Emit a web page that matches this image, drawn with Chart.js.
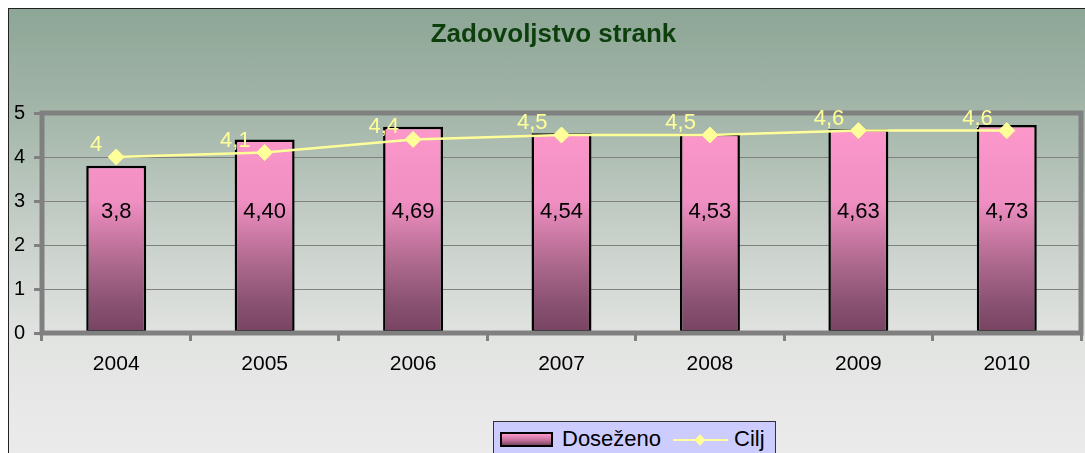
<!DOCTYPE html>
<html lang="sl">
<head>
    <meta charset="UTF-8">
    <title>Zadovoljstvo strank</title>
    <script src="https://cdn.jsdelivr.net/npm/chart.js"></script>
    <style>
        html, body {
            margin: 0;
            padding: 0;
            width: 1085px;
            height: 453px;
            overflow: hidden;
            background: #ffffff;
            font-family: 'Liberation Sans', Arial, sans-serif;
        }
        #frame {
            position: absolute;
            left: 8px;
            top: 8px;
            width: 1100px;
            height: 460px;
            border: 1px solid #222;
            background: linear-gradient(to bottom, #8da696 0%, #a6b8ab 25%, #c9d1cb 50%, #e2e4e2 72%, #ececec 100%);
        }
        #chart {
            position: absolute;
            left: 0;
            top: 0;
        }
        #title {
            position: absolute;
            left: 0;
            width: 1107px;
            top: 20px;
            text-align: center;
            font-weight: bold;
            font-size: 26px;
            line-height: 26px;
            color: #0d3f0d;
        }
        #legend {
            position: absolute;
            left: 493px;
            top: 421px;
            width: 281px;
            height: 40px;
            background: #ccccff;
            border: 1px solid #333;
        }
        .swatch {
            position: absolute;
            left: 500px;
            top: 432px;
            width: 49px;
            height: 11px;
            border: 2px solid #000;
            background: linear-gradient(to bottom, #ff99cc, #c06f98 60%, #7a4562);
        }
        .ltext {
            position: absolute;
            top: 428px;
            font-size: 22px;
            line-height: 22px;
            color: #000;
        }
        .lline {
            position: absolute;
            left: 673px;
            top: 439px;
            width: 55px;
            height: 2px;
            background: #ffff99;
        }
        .ldiamond {
            position: absolute;
            left: 696px;
            top: 436px;
            width: 8px;
            height: 8px;
            background: #ffff99;
            transform: rotate(45deg);
        }
    </style>
</head>
<body>
    <div id="frame">
        <canvas id="chart" width="1089" height="444"></canvas>
    </div>
    <div id="title">Zadovoljstvo strank</div>
    <div id="legend"></div>
    <div class="swatch"></div>
    <span class="ltext" style="left:562px">Doseženo</span>
    <div class="lline"></div>
    <div class="ldiamond"></div>
    <span class="ltext" style="left:734px">Cilj</span>

    <script>
        const years = ['2004', '2005', '2006', '2007', '2008', '2009', '2010'];
        const dosezeno = [3.8, 4.40, 4.69, 4.54, 4.53, 4.63, 4.73];
        const dosezenoLabels = ['3,8', '4,40', '4,69', '4,54', '4,53', '4,63', '4,73'];
        const cilj = [4, 4.1, 4.4, 4.5, 4.5, 4.6, 4.6];
        const ciljLabels = ['4', '4,1', '4,4', '4,5', '4,5', '4,6', '4,6'];
        const yTicks = [0, 1, 2, 3, 4, 5];

        const BAR_LABEL_LEVEL = 2.75;
        const FONT = "'Liberation Sans', Arial, sans-serif";

        function barGradient(context) {
            const area = context.chart.chartArea;
            if (!area) return '#ff99cc';
            const g = context.chart.ctx.createLinearGradient(0, area.top, 0, area.bottom);
            g.addColorStop(0, '#ff99cc');
            g.addColorStop(0.4, '#f08fc2');
            g.addColorStop(0.65, '#b56d93');
            g.addColorStop(0.85, '#8c5374');
            g.addColorStop(1, '#774361');
            return g;
        }

        // thick grey frame round the plot area + value labels
        const plotDecor = {
            id: 'plotDecor',
            afterDatasetsDraw(chart) {
                const ctx = chart.ctx;
                const a = chart.chartArea;
                ctx.save();
                ctx.strokeStyle = '#808080';
                ctx.lineWidth = 5;
                ctx.strokeRect(a.left, a.top, a.right - a.left, a.bottom - a.top);

                const y = chart.scales.y;
                ctx.font = '22px ' + FONT;
                ctx.textBaseline = 'middle';

                ctx.fillStyle = '#000';
                ctx.textAlign = 'center';
                chart.getDatasetMeta(1).data.forEach((bar, i) => {
                    ctx.fillText(dosezenoLabels[i], bar.x, y.getPixelForValue(BAR_LABEL_LEVEL));
                });

                ctx.fillStyle = '#ffff99';
                ctx.textAlign = 'right';
                chart.getDatasetMeta(0).data.forEach((pt, i) => {
                    ctx.fillText(ciljLabels[i], pt.x - 14, pt.y - 12);
                });
                ctx.restore();
            }
        };

        new Chart(document.getElementById('chart'), {
            data: {
                labels: years,
                datasets: [
                    {
                        type: 'line',
                        label: 'Cilj',
                        data: cilj,
                        borderColor: '#ffff99',
                        borderWidth: 2.5,
                        pointStyle: 'rectRot',
                        pointRadius: 8,
                        pointBackgroundColor: '#ffff99',
                        pointBorderColor: '#ffff99',
                        pointBorderWidth: 1,
                        tension: 0,
                        order: 0
                    },
                    {
                        type: 'bar',
                        label: 'Doseženo',
                        data: dosezeno,
                        backgroundColor: barGradient,
                        borderColor: '#000',
                        borderWidth: 2.5,
                        borderSkipped: false,
                        categoryPercentage: 1,
                        barPercentage: 0.404,
                        order: 1
                    }
                ]
            },
            options: {
                responsive: false,
                animation: false,
                layout: { padding: { top: 104, right: 17, left: 0, bottom: 0 } },
                plugins: {
                    legend: { display: false },
                    title: { display: false },
                    tooltip: { enabled: false }
                },
                scales: {
                    x: {
                        offset: true,
                        border: { display: false },
                        grid: {
                            offset: true,
                            drawOnChartArea: false,
                            tickLength: 8,
                            tickWidth: 3,
                            tickColor: '#808080'
                        },
                        ticks: {
                            color: '#000',
                            padding: 11,
                            maxRotation: 0,
                            font: { family: FONT, size: 21 }
                        },
                        afterFit(scale) { scale.height = 120; }
                    },
                    y: {
                        min: 0,
                        max: 5,
                        border: { display: false },
                        grid: {
                            color: '#808080',
                            lineWidth: 1,
                            tickLength: 8,
                            tickWidth: 3,
                            tickColor: '#808080'
                        },
                        afterBuildTicks(scale) {
                            scale.ticks = yTicks.map(v => ({ value: v }));
                        },
                        ticks: {
                            color: '#000',
                            padding: 9,
                            font: { family: FONT, size: 20 }
                        },
                        afterFit(scale) { scale.width = 33; }
                    }
                }
            },
            plugins: [plotDecor]
        });
    </script>
</body>
</html>
